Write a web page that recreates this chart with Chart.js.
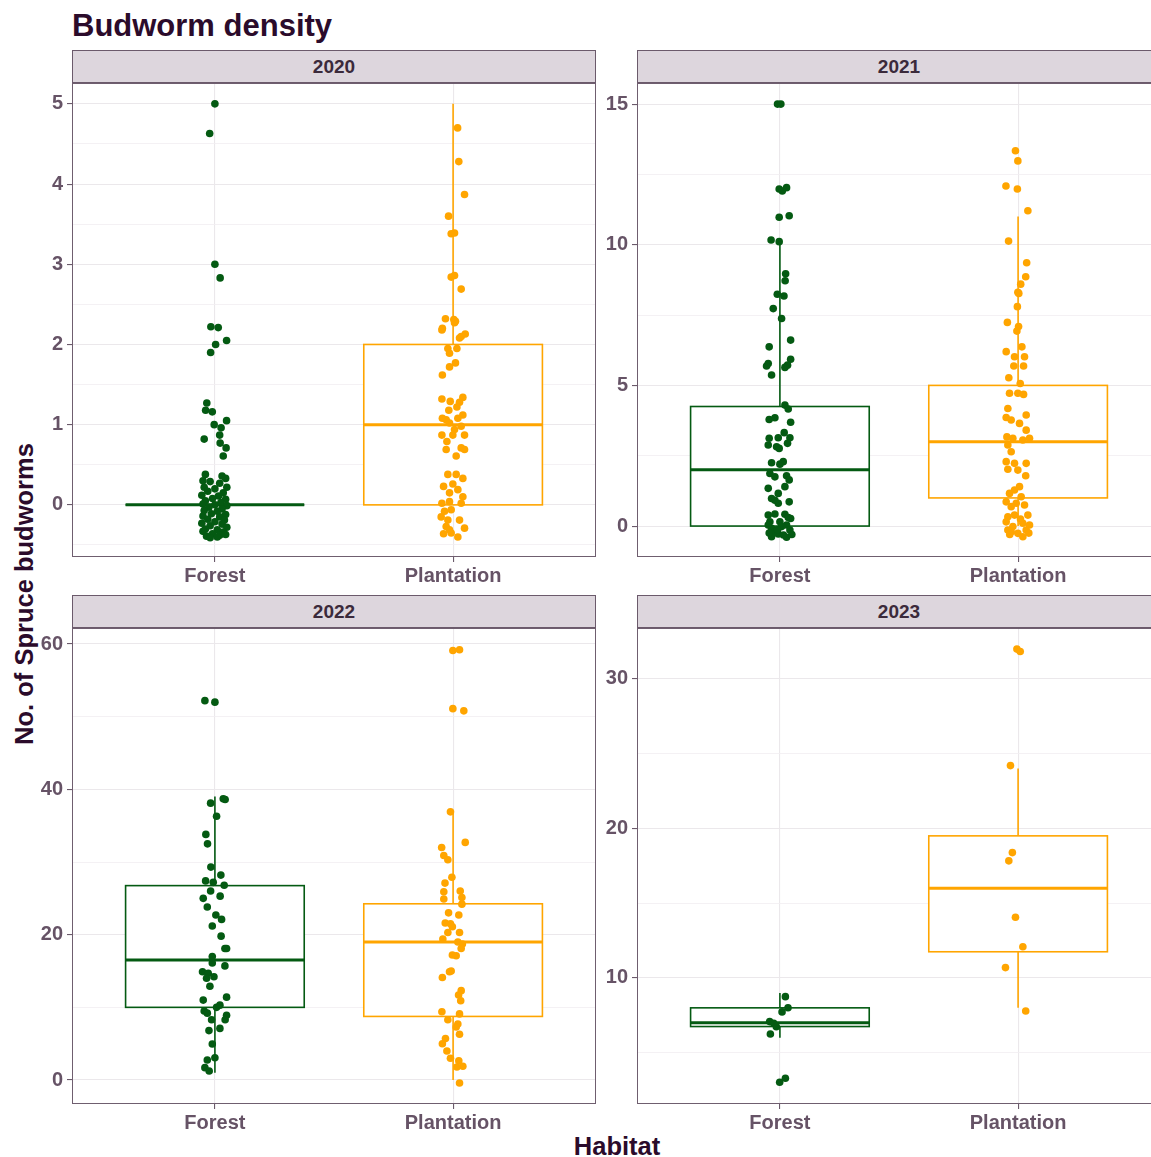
<!DOCTYPE html>
<html>
<head>
<meta charset="utf-8">
<script src="https://cdn.jsdelivr.net/npm/chart.js@4.4.0/dist/chart.umd.min.js"></script>
<style>
  body { margin: 0; width: 1151px; height: 1157px; overflow: hidden; background: #fff; position: relative;
         font-family: "Liberation Sans", Arial, sans-serif; }
  .title { position: absolute; left: 72px; top: 8px; font-size: 31px; font-weight: bold; color: #2b0b2b; }
  .strip { position: absolute; height: 33px; background: #ddd6dd; border: 1px solid #6b5a6b; box-sizing: border-box;
           text-align: center; line-height: 31px; font-size: 19px; font-weight: bold; color: #3b2a3b; }
  .ylab { position: absolute; left: 24px; top: 594px; transform: translate(-50%, -50%) rotate(-90deg);
          white-space: nowrap; font-size: 25.5px; font-weight: bold; color: #2b0b2b; }
  .xlab { position: absolute; left: 617px; top: 1146px; transform: translate(-50%, -50%);
          font-size: 25.5px; font-weight: bold; color: #2b0b2b; }
  canvas { position: absolute; }
</style>
</head>
<body>
<div class="title">Budworm density</div>
<div class="ylab">No. of Spruce budworms</div>
<div class="xlab">Habitat</div>

<script>
const habitats = ['Forest', 'Plantation'];
const years = ['2020', '2021', '2022', '2023'];

// y axis limits and major step for each facet
const yMin = [-0.65, -1.1, -3.3, 1.57];
const yMax = [5.26, 15.75, 62.2, 33.4];
const yStep = [1, 5, 20, 10];

// box stats: [lower whisker, q1, median, q3, upper whisker]
const forestBox = [[0, 0, 0, 0, 0], [0, 0, 2, 4.25, 10], [1, 10, 16.5, 26.75, 39], [6, 6.75, 7, 8, 9]];
const plantationBox = [[0, 0, 1, 2, 5], [0, 1, 3, 5, 11], [0, 8.75, 19, 24.25, 37], [8, 11.75, 16, 19.5, 24]];

// jittered observations: [horizontal jitter, count]
const forest2020 = [[0, 5.0], [-.022, 4.63], [0, 3.0], [.022, 2.83], [-.017, 2.22], [.014, 2.21], [.049, 2.05], [.003, 2.0],
  [-.018, 1.90], [-.034, 1.27], [-.039, 1.18], [-.011, 1.16], [-.003, 1.0], [.049, 1.05], [.026, 0.96], [-.045, 0.82],
  [.02, 0.87], [.022, 0.77], [.047, 0.71], [.035, 0.61],
  [-.04, .38], [.03, .36], [.045, .33], [-.05, .30], [-.02, .29], [.02, .27], [-.045, .22], [.05, .22], [0, .2], [-.03, .17],
  [.035, .15], [-.055, .12], [.015, .11], [-.01, .08], [.045, .07], [-.04, .05], [.025, .03], [-.05, .01], [0, 0], [.05, -.01],
  [-.025, -.03], [.03, -.05], [-.045, -.07], [.01, -.08], [-.015, -.11], [.045, -.12], [-.05, -.14], [.02, -.15], [-.03, -.18],
  [.04, -.19], [0, -.21], [-.055, -.23], [.03, -.24], [-.02, -.26], [.05, -.28], [-.04, -.3], [.01, -.31], [-.05, -.33],
  [.035, -.34], [-.01, -.36], [.02, -.38], [-.035, -.39], [.045, -.37], [-.02, -.41], [.01, -.4]];
const plantation2020 = [[.019, 4.70], [.024, 4.28], [.048, 3.87], [-.019, 3.60], [-.008, 3.38], [.006, 3.39], [-.008, 2.84],
  [.006, 2.86], [.034, 2.69], [-.032, 2.32], [.003, 2.31], [.01, 2.29], [-.045, 2.2], [-.047, 2.18], [.006, 2.27], [.034, 2.10],
  [.051, 2.13], [.027, 2.08], [-.022, 1.95], [.016, 1.95], [-.015, 1.89], [.01, 1.77], [-.015, 1.72], [-.045, 1.62],
  [-.047, 1.32], [-.012, 1.29], [.041, 1.34], [.027, 1.28], [-.018, 1.18], [.016, 1.22], [.041, 1.12], [-.045, 1.08],
  [.02, 1.08], [-.015, 1.02], [-.029, 1.06], [.034, 0.98], [.006, 0.94], [-.047, 0.87], [.048, 0.87], [-.001, 0.87],
  [-.026, 0.79], [-.029, 0.69], [.034, 0.71], [.048, 0.69], [.013, 0.61],
  [-.022, .38], [.013, .38], [.041, .33], [-.04, .23], [-.001, .26], [-.015, .15], [.02, .19], [.041, .10], [-.047, .02],
  [-.015, .04], [.034, .02], [-.036, -.08], [-.008, -.06], [-.05, -.15], [-.022, -.19], [.027, -.19], [-.029, -.27],
  [.048, -.29], [-.008, -.35], [-.015, -.31], [.02, -.4], [-.04, -.36]];
const forest2021 = [[-.01, 15.0], [.004, 15.0], [-.003, 11.98], [.01, 11.91], [.028, 12.03], [-.003, 10.98], [.039, 11.03],
  [-.037, 10.17], [-.003, 10.11], [.024, 8.97], [.022, 8.72], [-.011, 8.24], [.017, 8.18], [-.028, 7.73], [.007, 7.38],
  [.045, 6.61], [-.045, 6.37], [.045, 5.93], [-.049, 5.78], [.032, 5.72], [.021, 5.64], [-.056, 5.69], [-.035, 5.37],
  [.021, 4.3], [.035, 4.16], [-.045, 3.79], [-.021, 3.85], [.045, 3.69], [.018, 3.32], [-.007, 3.14], [-.045, 3.12],
  [.042, 3.14], [-.049, 2.88], [-.014, 2.82], [-.003, 2.76], [.032, 2.94], [-.035, 2.25], [.014, 2.29], [0, 2.2],
  [-.042, 1.87], [.028, 1.79], [-.021, 1.75], [.039, 1.64], [-.049, 1.34], [.021, 1.40], [-.007, 1.16], [-.035, 0.98],
  [.039, 0.86], [-.007, 0.81], [-.021, 0.92], [-.049, .39], [-.021, .43], [.021, .42], [.045, .27], [-.042, .15], [0, .15],
  [.028, .04], [-.035, -.08], [.007, -.02], [.042, -.14], [-.021, -.2], [.028, -.4], [-.035, -.38], [-.007, -.28],
  [-.049, .04], [.015, -.32], [-.045, -.25], [.035, .3], [-.01, -.12], [.05, -.3]];
const plantation2021 = [[-.011, 13.34], [-.001, 12.98], [-.051, 12.09], [-.003, 11.98], [.041, 11.21], [-.04, 10.13],
  [.036, 9.36], [.032, 8.86], [.011, 8.6], [-.001, 8.31], [.003, 8.27], [-.003, 7.8], [-.045, 7.24], [.002, 7.09],
  [-.005, 6.93], [.016, 6.37], [-.05, 6.2], [-.015, 6.02], [.027, 6.02], [-.018, 5.69], [.023, 5.69], [-.039, 5.27],
  [.009, 5.07], [-.036, 4.72], [-.001, 4.72], [.023, 4.68], [-.043, 4.18], [.034, 3.95], [-.05, 3.86], [-.029, 3.77],
  [.006, 3.65], [.034, 3.41], [.048, 3.12], [-.047, 3.17], [-.022, 3.12], [.02, 3.06], [-.043, 2.88], [-.029, 2.64],
  [-.05, 2.29], [-.015, 2.23], [.034, 2.23], [-.043, 2.02], [-.001, 1.99], [.032, 1.79], [.006, 1.40], [-.015, 1.28],
  [-.036, 1.16], [.013, 1.04], [-.05, 0.86], [-.008, 0.81], [-.029, 0.69], [.027, 0.75], [.041, 0.39], [-.043, 0.33],
  [-.015, 0.39], [-.05, 0.15], [.02, 0.1], [.048, 0.04], [-.022, -0.02], [-.043, -0.14], [.034, -0.14], [-.001, -0.26],
  [.02, -0.38], [-.029, -0.2], [.01, .25], [-.035, -.3], [.045, -.25]];
const forest2022 = [[-.042, 52.2], [0, 52.0], [-.018, 38.1], [.035, 38.7], [.043, 38.6], [.007, 36.3], [-.038, 33.8],
  [-.031, 32.5], [-.017, 29.3], [.025, 28.2], [-.039, 27.4], [-.007, 27.2], [.039, 26.8], [-.018, 26.0], [.022, 25.3],
  [-.049, 25.0], [-.032, 23.8], [.004, 22.7], [.028, 22.1], [-.011, 21.2], [.026, 19.8], [.042, 18.1], [.049, 18.1],
  [-.011, 17.0], [-.011, 16.1], [.042, 15.7], [-.052, 14.9], [-.028, 14.7], [-.004, 14.2], [-.035, 14.0], [-.021, 12.9],
  [-.049, 11.0], [.049, 11.4], [.007, 10.0], [.021, 10.3], [-.045, 9.5], [-.032, 9.2], [.049, 8.9], [.043, 8.3],
  [-.014, 8.3], [.021, 7.1], [-.025, 6.8], [-.011, 4.95], [0, 3.07], [-.032, 2.75], [-.042, 1.7], [-.024, 1.24]];
const plantation2022 = [[-.001, 59.1], [.027, 59.2], [-.001, 51.1], [.045, 50.8], [-.011, 36.9], [.051, 32.7], [-.048, 32.0],
  [-.039, 30.9], [-.022, 30.3], [-.005, 27.9], [-.034, 27.1], [-.039, 25.9], [.03, 26.0], [.037, 25.1], [-.039, 24.9],
  [.037, 24.2], [-.019, 23.0], [.024, 22.7], [-.033, 21.6], [-.011, 21.5], [-.003, 21.1], [-.022, 20.3], [.027, 20.3],
  [-.043, 19.4], [.02, 19.0], [.039, 18.7], [.034, 18.1], [-.003, 17.2], [.013, 17.1], [-.008, 15.0], [-.015, 14.9],
  [-.045, 14.1], [.034, 12.3], [.023, 11.7], [.032, 10.9], [-.047, 9.4], [.027, 9.1], [-.022, 8.3], [.02, 7.7],
  [.013, 7.3], [.027, 6.3], [-.032, 5.7], [-.045, 5.0], [-.026, 4.0], [-.011, 3.0], [.024, 2.65], [.041, 1.9],
  [.016, 1.8], [.027, -0.4]];
const forest2023 = [[.023, 8.75], [.034, 8.01], [.009, 7.73], [-.043, 7.08], [-.026, 6.97], [-.015, 6.74], [-.04, 6.25],
  [.023, 3.29], [-.001, 3.02]];
const plantation2023 = [[-.005, 31.99], [.009, 31.83], [-.032, 24.2], [-.024, 18.38], [-.039, 17.83], [-.011, 14.06],
  [.02, 12.09], [-.053, 10.69], [.032, 7.79]];

const forestPoints = [forest2020, forest2021, forest2022, forest2023];
const plantationPoints = [plantation2020, plantation2021, plantation2022, plantation2023];

const forestColor = '#045a12';
const plantationColor = '#ffa500';

// panel placement
const panelLeft = [72, 637, 72, 637];
const panelTop = [83, 83, 628, 628];
const panelW = 524;
const panelH = [474, 474, 476, 476];
const yAxisW = 70, xAxisH = 40;

function isMajor(v, step) {
    return Math.abs(v / step - Math.round(v / step)) < 1e-6;
}

// box and whisker layer, drawn under the points
function boxPlugin(i) {
    return {
        id: 'boxes' + i,
        beforeDatasetsDraw(chart) {
            const ctx = chart.ctx;
            const xs = chart.scales.x, ys = chart.scales.y;
            [[forestBox[i], forestColor, 1], [plantationBox[i], plantationColor, 2]].forEach(([s, color, cat]) => {
                const l = xs.getPixelForValue(cat - 0.375);
                const r = xs.getPixelForValue(cat + 0.375);
                const c = xs.getPixelForValue(cat);
                const [lo, q1, med, q3, hi] = s.map(v => ys.getPixelForValue(v));
                ctx.save();
                ctx.strokeStyle = color;
                ctx.lineWidth = 1.6;
                ctx.beginPath();
                ctx.moveTo(c, q3); ctx.lineTo(c, hi);
                ctx.moveTo(c, q1); ctx.lineTo(c, lo);
                ctx.stroke();
                ctx.fillStyle = '#fff';
                ctx.fillRect(l, q3, r - l, q1 - q3);
                ctx.strokeRect(l, q3, r - l, q1 - q3);
                ctx.lineWidth = 3;
                ctx.beginPath();
                ctx.moveTo(l, med); ctx.lineTo(r, med);
                ctx.stroke();
                ctx.restore();
            });
        },
        afterDraw(chart) {
            const a = chart.chartArea;
            const ctx = chart.ctx;
            ctx.save();
            ctx.strokeStyle = '#6f5e6f';
            ctx.lineWidth = 1;
            ctx.strokeRect(a.left + 0.5, a.top + 0.5, a.right - a.left - 1, a.bottom - a.top - 1);
            ctx.restore();
        }
    };
}

function makePanel(i) {
    const strip = document.createElement('div');
    strip.className = 'strip';
    strip.style.left = panelLeft[i] + 'px';
    strip.style.top = (panelTop[i] - 33) + 'px';
    strip.style.width = panelW + 'px';
    strip.textContent = years[i];
    document.body.appendChild(strip);

    const canvas = document.createElement('canvas');
    canvas.width = yAxisW + panelW;
    canvas.height = panelH[i] + xAxisH;
    canvas.style.left = (panelLeft[i] - yAxisW) + 'px';
    canvas.style.top = panelTop[i] + 'px';
    document.body.appendChild(canvas);

    const step = yStep[i];
    const tickFont = { family: '"Liberation Sans", Arial, sans-serif', size: 20, weight: 'bold' };

    new Chart(canvas.getContext('2d'), {
        type: 'scatter',
        data: {
            datasets: [
                { data: forestPoints[i].map(p => ({ x: 1 + p[0], y: p[1] })), backgroundColor: forestColor },
                { data: plantationPoints[i].map(p => ({ x: 2 + p[0], y: p[1] })), backgroundColor: plantationColor }
            ]
        },
        options: {
            responsive: false,
            animation: false,
            events: [],
            layout: { padding: 0, autoPadding: false },
            elements: { point: { radius: 3.8, borderWidth: 0 } },
            plugins: { legend: { display: false }, tooltip: { enabled: false } },
            scales: {
                x: {
                    type: 'linear', min: 0.4, max: 2.6,
                    afterBuildTicks: s => { s.ticks = habitats.map((h, k) => ({ value: k + 1 })); },
                    afterFit: s => { s.height = xAxisH; s.paddingLeft = 0; s.paddingRight = 0; },
                    ticks: { callback: v => habitats[Math.round(v) - 1], color: '#665366', font: tickFont,
                             padding: 2, maxRotation: 0, autoSkip: false },
                    grid: { color: '#ebe8eb', lineWidth: 1.1, tickColor: '#6b5a6b', tickLength: 5 },
                    border: { display: false }
                },
                y: {
                    min: yMin[i], max: yMax[i],
                    afterBuildTicks: s => {
                        const t = [];
                        for (let v = Math.ceil(yMin[i] / (step / 2)) * step / 2; v <= yMax[i]; v += step / 2) {
                            t.push({ value: Math.round(v * 1000) / 1000 });
                        }
                        s.ticks = t;
                    },
                    afterFit: s => { s.width = yAxisW; s.paddingTop = 0; s.paddingBottom = 0; },
                    ticks: { callback: v => isMajor(v, step) ? v : '', color: '#665366', font: tickFont,
                             padding: 4, autoSkip: false },
                    grid: {
                        color: c => isMajor(c.tick.value, step) ? '#ebe8eb' : '#f1eef1',
                        lineWidth: c => isMajor(c.tick.value, step) ? 1.1 : 0.8,
                        tickColor: c => isMajor(c.tick.value, step) ? '#6b5a6b' : 'rgba(0,0,0,0)',
                        tickLength: 5
                    },
                    border: { display: false }
                }
            }
        },
        plugins: [boxPlugin(i)]
    });
}

years.forEach((y, i) => makePanel(i));
</script>
</body>
</html>
